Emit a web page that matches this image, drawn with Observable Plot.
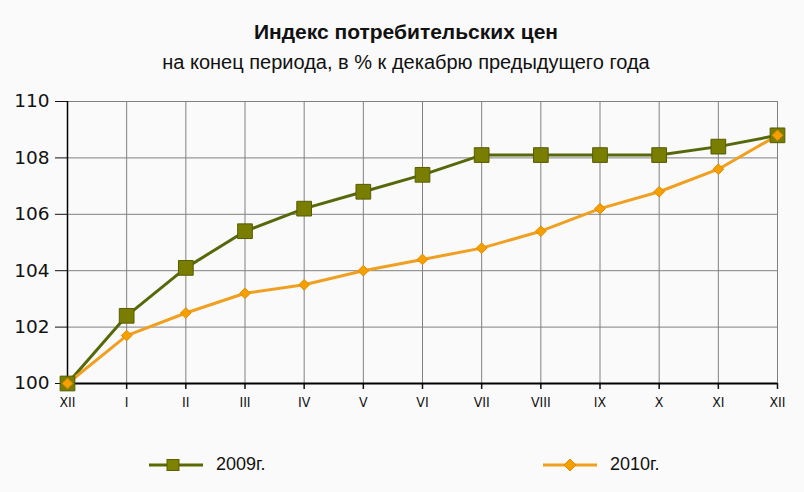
<!DOCTYPE html>
<html>
<head>
<meta charset="utf-8">
<script src="https://cdn.jsdelivr.net/npm/d3@7"></script>
<script src="https://cdn.jsdelivr.net/npm/@observablehq/plot@0.6"></script>
<style>
  html, body { margin: 0; padding: 0; background: #fafafa; }
  #wrap { position: relative; width: 804px; height: 492px; background: #fafafa; overflow: hidden; }
  .title { position: absolute; left: 0; width: 812px; text-align: center; color: #111; font-family: "Liberation Sans", Arial, sans-serif; }
  #t1 { top: 20px; font-size: 21px; font-weight: bold; }
  #t2 { top: 51px; font-size: 20px; }
  #chart { position: absolute; top: 85px; left: 0; }
  .leg { position: absolute; top: 454px; display: flex; align-items: center; font-family: "Liberation Sans Narrow", "Liberation Sans", Arial, sans-serif; font-size: 18px; color: #111; }
  .leg svg { margin-right: 13px; }
</style>
</head>
<body>
<div id="wrap">
  <div class="title" id="t1">Индекс потребительских цен</div>
  <div class="title" id="t2">на конец периода, в % к декабрю предыдущего года</div>
  <div id="chart"></div>
  <div class="leg" style="left:149px"><svg width="54" height="20"><line x1="0" y1="10" x2="54" y2="10" stroke="#5a6a00" stroke-width="3"/><rect x="18" y="4.5" width="12" height="11" fill="#7d8200" stroke="#5a6000" stroke-width="1"/></svg><span>2009г.</span></div>
  <div class="leg" style="left:543px"><svg width="54" height="20"><line x1="0" y1="10" x2="54" y2="10" stroke="#f0a020" stroke-width="3"/><path d="M27,4 L33,10 L27,16 L21,10 Z" fill="#f5a000" stroke="#e08a00" stroke-width="1"/></svg><span>2010г.</span></div>
</div>
<script>
const months = ["XII", "I", "II", "III", "IV", "V", "VI", "VII", "VIII", "IX", "X", "XI", "XII"];
const values2009 = [100, 102.4, 104.1, 105.4, 106.2, 106.8, 107.4, 108.1, 108.1, 108.1, 108.1, 108.4, 108.8];
const values2010 = [100, 101.7, 102.5, 103.2, 103.5, 104.0, 104.4, 104.8, 105.4, 106.2, 106.8, 107.6, 108.8];
const yTicks = [100, 102, 104, 106, 108, 110];

const d2009 = values2009.map((v, i) => ({i, v}));
const d2010 = values2010.map((v, i) => ({i, v}));
const idx = months.map((m, i) => i);

const chart = Plot.plot({
  width: 804,
  height: 335,
  marginTop: 16,
  marginBottom: 37,
  marginLeft: 67,
  marginRight: 27,
  style: {background: "transparent", fontFamily: "DejaVu Sans, sans-serif"},
  x: {domain: [0, 12], ticks: idx, tickFormat: i => months[i]},
  y: {domain: [100, 110], ticks: yTicks},
  marks: [
    Plot.gridX(idx, {stroke: "#808080", strokeOpacity: 1, strokeWidth: 1}),
    Plot.gridY(yTicks, {stroke: "#808080", strokeOpacity: 1, strokeWidth: 1}),
    Plot.axisX(idx, {tickSize: 6, tickPadding: 8, fontSize: 14, fill: "#111", stroke: "#111", strokeWidth: 1.5, tickFormat: i => months[i], fontFamily: "DejaVu Sans Condensed, DejaVu Sans, sans-serif", label: null}),
    Plot.axisY(yTicks, {tickSize: 12, tickPadding: 6, fontSize: 18.5, fill: "#111", stroke: "#111", label: null}),
    Plot.ruleX([0], {stroke: "#000", strokeWidth: 1.5}),
    Plot.ruleY([100], {stroke: "#000", strokeWidth: 2}),
    Plot.line(d2009, {x: "i", y: "v", stroke: "#55680a", strokeWidth: 3}),
    Plot.line(d2010, {x: "i", y: "v", stroke: "#f0a020", strokeWidth: 3}),
    Plot.dot(d2009, {x: "i", y: "v", symbol: "square", r: 8.3, fill: "#7a7e00", stroke: "#565c00", strokeWidth: 1}),
    Plot.dot(d2010, {x: "i", y: "v", symbol: "diamond2", r: 4.8, fill: "#f5a000", stroke: "#e08a00", strokeWidth: 1})
  ]
});
document.getElementById("chart").appendChild(chart);
</script>
</body>
</html>
